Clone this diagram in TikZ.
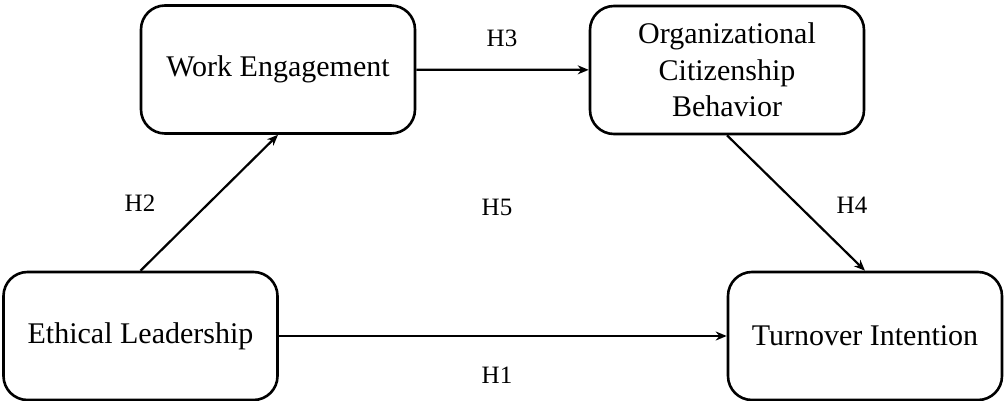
\documentclass[tikz,border=0pt]{standalone}
\usepackage{fontspec}
\setmainfont{Liberation Serif}
\usepackage{tikz}
\usepackage{xcolor}
\usetikzlibrary{arrows.meta}

\begin{document}
\begin{tikzpicture}[x=1pt,y=-1pt,
        construct/.style={rectangle,rounded corners=24pt,draw,line width=2.6pt,
          black,fill=white,text=black,align=center,minimum width=274pt,
          minimum height=128pt,font=\fontsize{30}{36.5}\selectfont},
        hyp/.style={font=\fontsize{25}{30}\selectfont},
        unidirectional/.style={line width=2.2pt,black,-{Stealth[length=11pt,width=9pt]}}]

        \useasboundingbox (0,0) rectangle (1006,401);

        \node [construct] (we)  at (278.0, 69.5)  {Work Engagement};
        \node [construct] (ocb) at (727.0, 70.0)  {Organizational\\Citizenship\\Behavior};
        \node [construct] (el)  at (140.5, 336.0) {Ethical Leadership};
        \node [construct] (ti)  at (865.0, 336.0) {Turnover Intention};

        \node [hyp] (h1) at (497, 375) {H1};
        \node [hyp] (h2) at (140, 203) {H2};
        \node [hyp] (h3) at (502, 38)  {H3};
        \node [hyp] (h4) at (852, 205) {H4};
        \node [hyp] (h5) at (497, 207) {H5};

        \path [unidirectional] (el) edge (ti);
        \path [unidirectional] (el.north) edge (we.south);
        \path [unidirectional] (we) edge (ocb);
        \path [unidirectional] (ocb.south) edge (ti.north);
\end{tikzpicture}
\end{document}
